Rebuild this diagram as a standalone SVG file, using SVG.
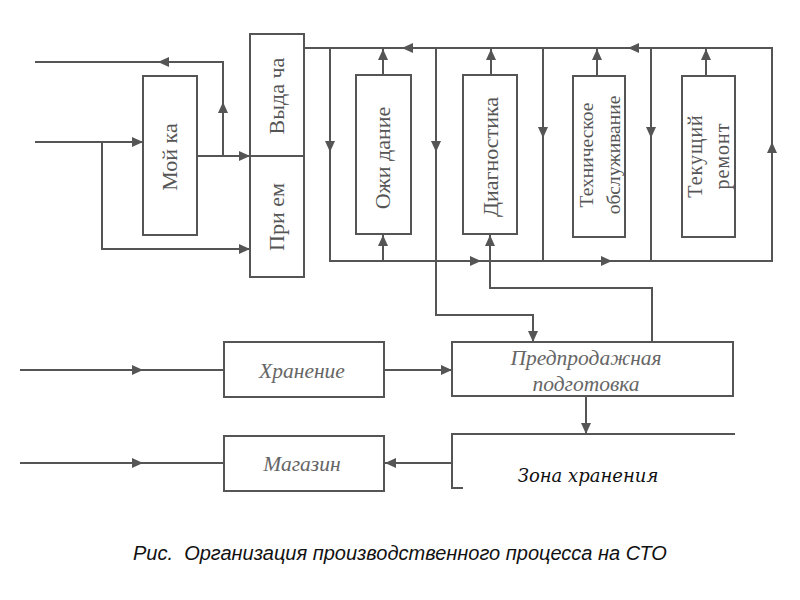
<svg xmlns="http://www.w3.org/2000/svg" xmlns:xlink="http://www.w3.org/1999/xlink" width="800" height="600" viewBox="0 0 800 600">
<style>
.box{fill:#fff;stroke:#555;stroke-width:2}
.ln{fill:none;stroke:#555;stroke-width:2}
.ah{fill:#555}
.lbl{font-family:"Liberation Serif",serif;fill:#555;font-size:22px;text-anchor:middle}
.it{font-family:"Liberation Serif",serif;font-style:italic;fill:#666;font-size:21.5px;text-anchor:middle}
.cap{font-family:"Liberation Sans",Arial,sans-serif;font-style:italic;fill:#111;font-size:20px}
.zone{font-family:"DejaVu Serif",serif;font-style:italic;fill:#111;font-size:18px;text-anchor:middle}
</style>
<defs>
<path id="a" d="M0,0 L-11,-5 L-11,5 Z"/>
</defs>
<rect width="800" height="600" fill="#fff"/>
<g id="connectors">
<polyline class="ln" points="223,156 223,62 35,62"/>
<polyline class="ln" points="35,142 143,142"/>
<polyline class="ln" points="102,142 102,249 250,249"/>
<polyline class="ln" points="197,156 250,156"/>
<polyline class="ln" points="304,48 772,48 772,261 330,261 330,48"/>
<polyline class="ln" points="436,48 436,315 533,315 533,342"/>
<polyline class="ln" points="543,48 543,261"/>
<polyline class="ln" points="651,48 651,261"/>
<polyline class="ln" points="383,75 383,48"/>
<polyline class="ln" points="491,75 491,48"/>
<polyline class="ln" points="597,76 597,48"/>
<polyline class="ln" points="706,76 706,48"/>
<polyline class="ln" points="383,261 383,234"/>
<polyline class="ln" points="652,342 652,288 490,288 490,234"/>
<polyline class="ln" points="20,370 224,370"/>
<polyline class="ln" points="384,370 452,370"/>
<polyline class="ln" points="20,463 224,463"/>
<polyline class="ln" points="452,463 384,463"/>
<polyline class="ln" points="586,396 586,434"/>
<polyline class="ln" points="735,434 452,434 452,488 463,488"/>
<g class="ah">
<use xlink:href="#a" transform="translate(223,102) rotate(-90)"/>
<use xlink:href="#a" transform="translate(158,62) rotate(180)"/>
<use xlink:href="#a" transform="translate(143,142)"/>
<use xlink:href="#a" transform="translate(250,249)"/>
<use xlink:href="#a" transform="translate(250,156)"/>
<use xlink:href="#a" transform="translate(402,48) rotate(180)"/>
<use xlink:href="#a" transform="translate(628,48) rotate(180)"/>
<use xlink:href="#a" transform="translate(330,152) rotate(90)"/>
<use xlink:href="#a" transform="translate(436,152) rotate(90)"/>
<use xlink:href="#a" transform="translate(543,138) rotate(90)"/>
<use xlink:href="#a" transform="translate(651,138) rotate(90)"/>
<use xlink:href="#a" transform="translate(772,142) rotate(-90)"/>
<use xlink:href="#a" transform="translate(481,261)"/>
<use xlink:href="#a" transform="translate(612,261)"/>
<use xlink:href="#a" transform="translate(383,49) rotate(-90)"/>
<use xlink:href="#a" transform="translate(491,49) rotate(-90)"/>
<use xlink:href="#a" transform="translate(597,49) rotate(-90)"/>
<use xlink:href="#a" transform="translate(706,49) rotate(-90)"/>
<use xlink:href="#a" transform="translate(383,235) rotate(-90)"/>
<use xlink:href="#a" transform="translate(490,235) rotate(-90)"/>
<use xlink:href="#a" transform="translate(533,342) rotate(90)"/>
<use xlink:href="#a" transform="translate(143,370)"/>
<use xlink:href="#a" transform="translate(452,370)"/>
<use xlink:href="#a" transform="translate(143,463)"/>
<use xlink:href="#a" transform="translate(385,463) rotate(180)"/>
<use xlink:href="#a" transform="translate(586,434) rotate(90)"/>
</g>
</g>
<g id="moyka">
<rect class="box" x="143" y="76" width="54" height="159"/>
<text class="lbl" transform="translate(170,157) rotate(-90)" y="7">Мой ка</text>
</g>
<g id="vydacha">
<rect class="box" x="250" y="34" width="54" height="122"/>
<text class="lbl" transform="translate(277,96) rotate(-90)" y="7">Выда ча</text>
</g>
<g id="priem">
<rect class="box" x="250" y="156" width="54" height="121"/>
<text class="lbl" transform="translate(277,217) rotate(-90)" y="7">При ем</text>
</g>
<g id="ozhidanie">
<rect class="box" x="356" y="75" width="55" height="159"/>
<text class="lbl" transform="translate(383,158) rotate(-90)" y="7">Ожи дание</text>
</g>
<g id="diagnostika">
<rect class="box" x="463" y="75" width="54" height="159"/>
<text class="lbl" transform="translate(491,157) rotate(-90)" y="7">Диагностика</text>
</g>
<g id="to">
<rect class="box" x="573" y="76" width="52" height="161"/>
<text class="lbl" style="font-size:19.5px" transform="translate(600,155) rotate(-90)"><tspan x="0" y="-7">Техническое</tspan><tspan x="0" y="20">обслуживание</tspan></text>
</g>
<g id="tr">
<rect class="box" x="682" y="76" width="53" height="161"/>
<text class="lbl" style="font-size:20px;letter-spacing:1px" transform="translate(709,156) rotate(-90)"><tspan x="0" y="-7">Текущий</tspan><tspan x="0" y="20">ремонт</tspan></text>
</g>
<g id="hranenie">
<rect class="box" x="224" y="342" width="160" height="55"/>
<text class="it" x="302" y="378">Хранение</text>
</g>
<g id="predprodazhnaya">
<rect class="box" x="452" y="342" width="281" height="54"/>
<text class="it" x="586" y="365">Предпродажная</text>
<text class="it" x="586" y="391">подготовка</text>
</g>
<g id="magazin">
<rect class="box" x="224" y="436" width="160" height="55"/>
<text class="it" x="302" y="471">Магазин</text>
</g>
<g id="zona">
<text class="zone" x="588" y="482">Зона хранения</text>
</g>
<text class="cap" x="133" y="560" xml:space="preserve">Рис.  Организация производственного процесса на СТО</text>
</svg>
